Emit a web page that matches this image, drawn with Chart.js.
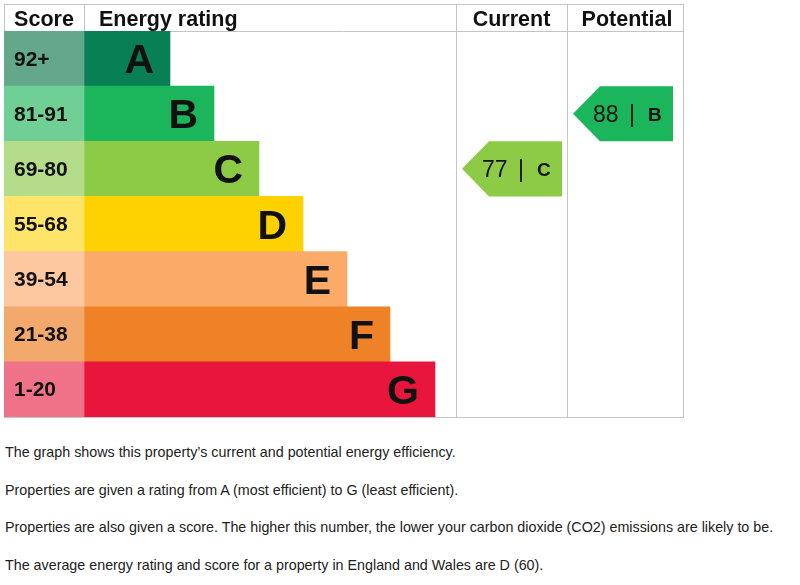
<!DOCTYPE html>
<html>
<head>
<meta charset="utf-8">
<script src="https://cdn.jsdelivr.net/npm/chart.js@4"></script>
<style>
  html, body { margin: 0; padding: 0; background: #fff; }
  body { width: 800px; height: 585px; position: relative; overflow: hidden; font-family: Arial, "Liberation Sans", sans-serif; }
  #epc { position: absolute; left: 0; top: 0; }
  #notes { position: absolute; left: 5px; top: 434px; width: 795px; color: #222; font-size: 14.3px; }
  #notes p { margin: 0; line-height: 37.5px; white-space: nowrap; }
</style>
</head>
<body>
<canvas id="epc" width="800" height="420"></canvas>
<div id="notes">
  <p>The graph shows this property’s current and potential energy efficiency.</p>
  <p>Properties are given a rating from A (most efficient) to G (least efficient).</p>
  <p>Properties are also given a score. The higher this number, the lower your carbon dioxide (CO2) emissions are likely to be.</p>
  <p>The average energy rating and score for a property in England and Wales are D (60).</p>
</div>
<script>
// bands, score ranges and bar lengths (in rating-column units)
const bands = ['A', 'B', 'C', 'D', 'E', 'F', 'G'];
const scoreRanges = ['92+', '81-91', '69-80', '55-68', '39-54', '21-38', '1-20'];
const bandMinScores = [92, 81, 69, 55, 39, 21, 1];
const bandBarLengths = [86, 130, 175, 219, 263, 306, 351];
const bandColours = ['#087f55', '#1bb55c', '#8dcb46', '#fed201', '#fbaa68', '#ef8226', '#e8153c'];
const scoreColours = ['#64a88c', '#70cf94', '#b3dc8b', '#ffe46a', '#fdc8a0', '#f4a96c', '#ef7289'];
const currentScore = 77;
const potentialScore = 88;

// column layout on the x scale
const scoreColEnd = 80;
const currentColStart = 452;
const potentialColStart = 563;
const tableEnd = 679;

const bandFor = score => bandMinScores.findIndex(m => score >= m);

const epcPlugin = {
    id: 'epc',
    beforeDatasetsDraw(chart) {
        const ctx = chart.ctx;
        const area = chart.chartArea;
        const x = chart.scales.x;
        const top = 4;
        ctx.save();
        ctx.strokeStyle = '#c4c4c4';
        ctx.lineWidth = 1;
        ctx.strokeRect(area.left + 0.5, top + 0.5, area.right - area.left, area.bottom - top);
        ctx.beginPath();
        ctx.moveTo(area.left, area.top + 0.5);
        ctx.lineTo(area.right, area.top + 0.5);
        const xs = x.getPixelForValue(scoreColEnd);
        ctx.moveTo(xs + 0.5, top);
        ctx.lineTo(xs + 0.5, area.top);
        [currentColStart, potentialColStart].forEach(v => {
            const px = Math.round(x.getPixelForValue(v)) + 0.5;
            ctx.moveTo(px, top);
            ctx.lineTo(px, area.bottom);
        });
        ctx.stroke();

        // header
        ctx.fillStyle = '#111';
        ctx.font = 'bold 21.5px Arial, "Liberation Sans", sans-serif';
        ctx.textBaseline = 'alphabetic';
        ctx.textAlign = 'center';
        ctx.fillText('Score', (area.left + xs) / 2, 26);
        const xc = x.getPixelForValue(currentColStart);
        const xp = x.getPixelForValue(potentialColStart);
        ctx.fillText('Current', (xc + xp) / 2, 26);
        ctx.fillText('Potential', (xp + area.right) / 2 + 2, 26);
        ctx.textAlign = 'left';
        ctx.fillText('Energy rating', xs + 15, 26);
        ctx.restore();
    },
    afterDatasetsDraw(chart) {
        const ctx = chart.ctx;
        const area = chart.chartArea;
        const x = chart.scales.x;
        const scoreMeta = chart.getDatasetMeta(0);
        const bandMeta = chart.getDatasetMeta(1);
        ctx.save();
        ctx.fillStyle = '#111';
        ctx.textBaseline = 'alphabetic';

        ctx.font = 'bold 21px Arial, "Liberation Sans", sans-serif';
        ctx.textAlign = 'left';
        scoreMeta.data.forEach((el, i) => {
            ctx.fillText(scoreRanges[i], area.left + 10, el.y + 7);
        });

        ctx.font = 'bold 41px Arial, "Liberation Sans", sans-serif';
        ctx.textAlign = 'right';
        bandMeta.data.forEach((el, i) => {
            ctx.fillText(bands[i], el.x - 16, el.y + 14.5);
        });

        // current / potential arrows
        [[currentScore, currentColStart], [potentialScore, potentialColStart]].forEach(([score, col]) => {
            const i = bandFor(score);
            const el = bandMeta.data[i];
            const t = el.y - el.height / 2;
            const b = el.y + el.height / 2;
            const tip = x.getPixelForValue(col) + 6;
            ctx.fillStyle = bandColours[i];
            ctx.beginPath();
            ctx.moveTo(tip, el.y);
            ctx.lineTo(tip + 27, t);
            ctx.lineTo(tip + 100, t);
            ctx.lineTo(tip + 100, b);
            ctx.lineTo(tip + 27, b);
            ctx.closePath();
            ctx.fill();
            ctx.fillStyle = '#111';
            ctx.textAlign = 'left';
            ctx.font = '23px Arial, "Liberation Sans", sans-serif';
            ctx.fillText(String(score), tip + 20, el.y + 8.5);
            ctx.fillText('|', tip + 56, el.y + 8.5);
            ctx.font = 'bold 19px Arial, "Liberation Sans", sans-serif';
            ctx.fillText(bands[i], tip + 75, el.y + 7);
        });
        ctx.restore();
    }
};

new Chart(document.getElementById('epc'), {
    type: 'bar',
    data: {
        labels: bands,
        datasets: [{
            label: 'Score',
            data: bands.map(() => [0, scoreColEnd]),
            backgroundColor: scoreColours,
            barPercentage: 1,
            categoryPercentage: 1,
            grouped: false
        }, {
            label: 'Energy rating',
            data: bandBarLengths.map(l => [scoreColEnd, scoreColEnd + l]),
            backgroundColor: bandColours,
            barPercentage: 1,
            categoryPercentage: 1,
            grouped: false
        }]
    },
    options: {
        indexAxis: 'y',
        responsive: false,
        animation: false,
        layout: { padding: { left: 4, top: 31, right: 117, bottom: 3 } },
        scales: {
            x: { type: 'linear', min: 0, max: tableEnd, display: false },
            y: { display: false }
        },
        plugins: { legend: { display: false }, tooltip: { enabled: false } }
    },
    plugins: [epcPlugin]
});
</script>
</body>
</html>
